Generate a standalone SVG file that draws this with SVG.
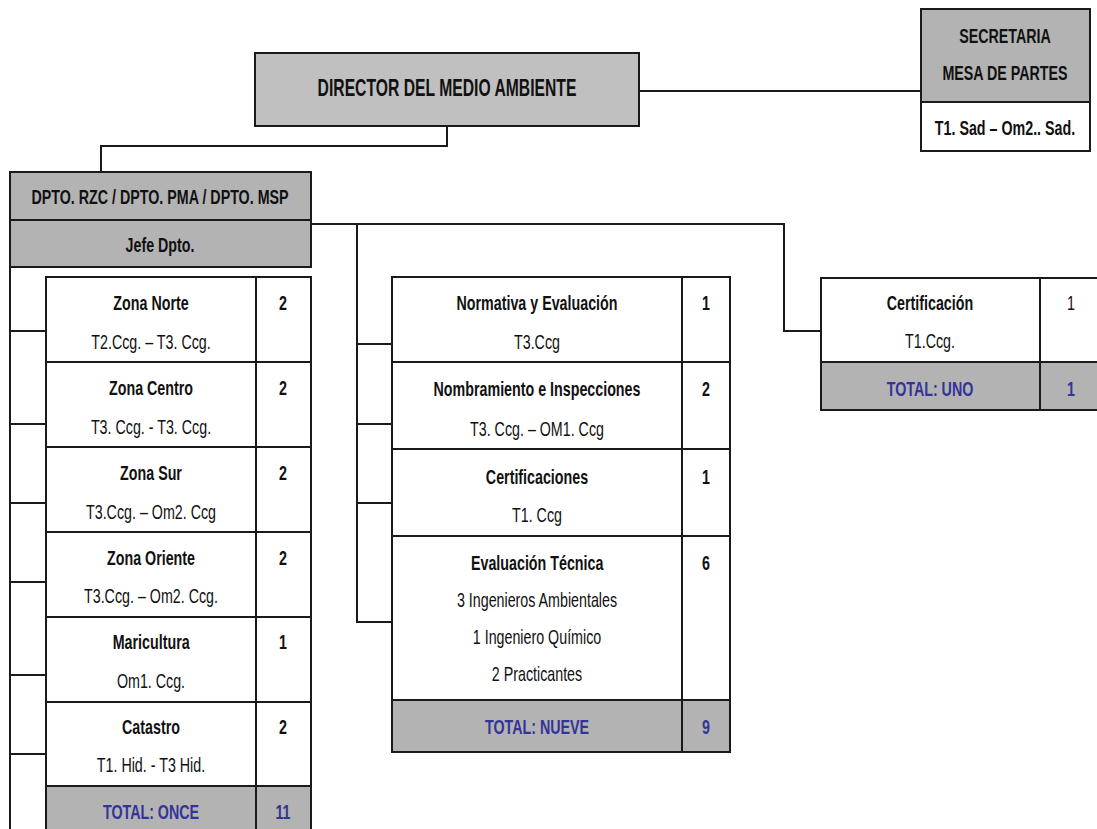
<svg xmlns="http://www.w3.org/2000/svg" width="1097" height="829" viewBox="0 0 1097 829">
<style>
text{font-family:"Liberation Sans",Arial,sans-serif;font-size:21px;text-anchor:middle;fill:#111;transform-box:fill-box;transform-origin:center;transform:scaleX(0.68)}
.b{font-weight:bold}
.tot{font-weight:bold;fill:#333399}
.d{font-size:24px;transform:scaleX(0.655)}
.box{fill:#fff;stroke:#1a1a1a;stroke-width:2}
.g{fill:#b3b3b3;stroke:#1a1a1a;stroke-width:2}
.g2{fill:#c0c0c0;stroke:#1a1a1a;stroke-width:2}
.ln{fill:none;stroke:#1a1a1a;stroke-width:2}
</style>
<rect width="1097" height="829" fill="#fff"/>
<g id="connectors" class="ln">
<line x1="639" y1="91" x2="921" y2="91"/>
<path d="M447,126 V146 H101 V172"/>
<path d="M311,224 H784 V331 H821"/>
<path d="M357,224 V622 H392"/>
<line x1="357" y1="344" x2="392" y2="344"/>
<line x1="357" y1="424" x2="392" y2="424"/>
<line x1="357" y1="503" x2="392" y2="503"/>
<path d="M10,267 V829"/>
<line x1="10" y1="331" x2="46" y2="331"/>
<line x1="10" y1="424" x2="46" y2="424"/>
<line x1="10" y1="503" x2="46" y2="503"/>
<line x1="10" y1="582" x2="46" y2="582"/>
<line x1="10" y1="675" x2="46" y2="675"/>
<line x1="10" y1="754" x2="46" y2="754"/>
</g>
<g id="director">
<rect class="g2" x="255" y="53" width="384" height="73"/>
<text class="b d" x="447" y="96">DIRECTOR DEL MEDIO AMBIENTE</text>
</g>
<g id="secretaria">
<rect class="g" x="921" y="9" width="169" height="93"/>
<rect class="box" x="921" y="102" width="169" height="49"/>
<text class="b" x="1005" y="43">SECRETARIA</text>
<text class="b" x="1005" y="80">MESA DE PARTES</text>
<text class="b" x="1005" y="135">T1. Sad – Om2.. Sad.</text>
</g>
<g id="dpto">
<rect class="g" x="10" y="172" width="301" height="48"/>
<rect class="g" x="10" y="220" width="301" height="47"/>
<text class="b" x="160" y="204">DPTO. RZC / DPTO. PMA / DPTO. MSP</text>
<text class="b" x="160" y="252">Jefe Dpto.</text>
</g>
<g id="zona-norte">
<rect class="box" x="46" y="277" width="210" height="85"/><rect class="box" x="256" y="277" width="55" height="85"/>
<text class="b" x="151" y="310">Zona Norte</text><text x="151" y="349">T2.Ccg. – T3. Ccg.</text><text class="b" x="283" y="310">2</text>
</g>
<g id="zona-centro">
<rect class="box" x="46" y="362" width="210" height="85"/><rect class="box" x="256" y="362" width="55" height="85"/>
<text class="b" x="151" y="395">Zona Centro</text><text x="151" y="434">T3. Ccg. - T3. Ccg.</text><text class="b" x="283" y="395">2</text>
</g>
<g id="zona-sur">
<rect class="box" x="46" y="447" width="210" height="85"/><rect class="box" x="256" y="447" width="55" height="85"/>
<text class="b" x="151" y="480">Zona Sur</text><text x="151" y="519">T3.Ccg. – Om2. Ccg</text><text class="b" x="283" y="480">2</text>
</g>
<g id="zona-oriente">
<rect class="box" x="46" y="532" width="210" height="85"/><rect class="box" x="256" y="532" width="55" height="85"/>
<text class="b" x="151" y="565">Zona Oriente</text><text x="151" y="603">T3.Ccg. – Om2. Ccg.</text><text class="b" x="283" y="565">2</text>
</g>
<g id="maricultura">
<rect class="box" x="46" y="617" width="210" height="85"/><rect class="box" x="256" y="617" width="55" height="85"/>
<text class="b" x="151" y="649">Maricultura</text><text x="151" y="688">Om1. Ccg.</text><text class="b" x="283" y="649">1</text>
</g>
<g id="catastro">
<rect class="box" x="46" y="702" width="210" height="84"/><rect class="box" x="256" y="702" width="55" height="84"/>
<text class="b" x="151" y="734">Catastro</text><text x="151" y="772">T1. Hid. - T3 Hid.</text><text class="b" x="283" y="734">2</text>
</g>
<g id="total-once">
<rect class="g" x="46" y="786" width="210" height="50"/><rect class="g" x="256" y="786" width="55" height="50"/>
<text class="tot" x="151" y="819">TOTAL: ONCE</text><text class="tot" x="283" y="819">11</text>
</g>
<g id="normativa">
<rect class="box" x="392" y="277" width="290" height="85"/><rect class="box" x="682" y="277" width="48" height="85"/>
<text class="b" x="537" y="310">Normativa y Evaluación</text><text x="537" y="349">T3.Ccg</text><text class="b" x="706" y="310">1</text>
</g>
<g id="nombramiento">
<rect class="box" x="392" y="362" width="290" height="87"/><rect class="box" x="682" y="362" width="48" height="87"/>
<text class="b" x="537" y="396">Nombramiento e Inspecciones</text><text x="537" y="436">T3. Ccg. – OM1. Ccg</text><text class="b" x="706" y="396">2</text>
</g>
<g id="certificaciones">
<rect class="box" x="392" y="449" width="290" height="87"/><rect class="box" x="682" y="449" width="48" height="87"/>
<text class="b" x="537" y="484">Certificaciones</text><text x="537" y="522">T1. Ccg</text><text class="b" x="706" y="484">1</text>
</g>
<g id="evaluacion">
<rect class="box" x="392" y="536" width="290" height="164"/><rect class="box" x="682" y="536" width="48" height="164"/>
<text class="b" x="537" y="570">Evaluación Técnica</text>
<text x="537" y="607">3 Ingenieros  Ambientales</text>
<text x="537" y="644">1 Ingeniero  Químico</text>
<text x="537" y="681">2 Practicantes</text>
<text class="b" x="706" y="570">6</text>
</g>
<g id="total-nueve">
<rect class="g" x="392" y="700" width="290" height="52"/><rect class="g" x="682" y="700" width="48" height="52"/>
<text class="tot" x="537" y="734">TOTAL: NUEVE</text><text class="tot" x="706" y="734">9</text>
</g>
<g id="certificacion">
<rect class="box" x="821" y="278" width="219" height="84"/><rect class="box" x="1040" y="278" width="60" height="84"/>
<text class="b" x="930" y="310">Certificación</text><text x="930" y="348">T1.Ccg.</text><text x="1071" y="310">1</text>
</g>
<g id="total-uno">
<rect class="g" x="821" y="362" width="219" height="48"/><rect class="g" x="1040" y="362" width="60" height="48"/>
<text class="tot" x="930" y="396">TOTAL: UNO</text><text class="tot" x="1071" y="396">1</text>
</g>
</svg>
